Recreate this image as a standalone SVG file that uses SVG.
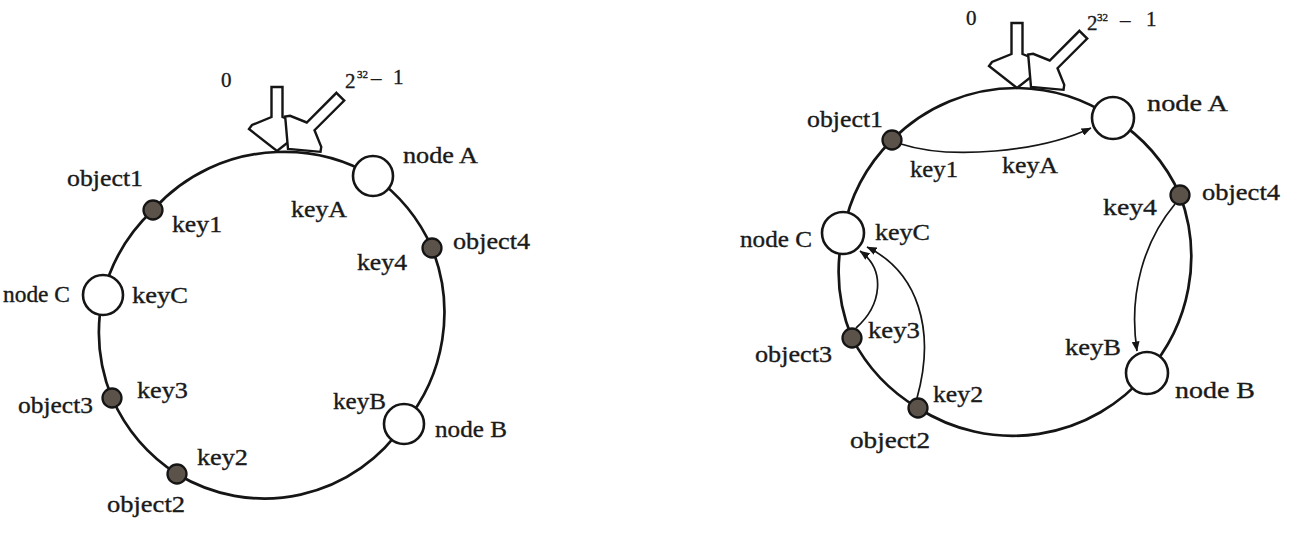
<svg xmlns="http://www.w3.org/2000/svg" width="1316" height="536" viewBox="0 0 1316 536">
<defs>
<marker id="ah" viewBox="0 0 10 8" refX="9.5" refY="4" markerWidth="10" markerHeight="8" markerUnits="userSpaceOnUse" orient="auto"><path d="M0,0 L10,4 L0,8 Z" fill="#151515"/></marker>
</defs>
<style>
text{font-family:"Liberation Serif","Times New Roman",serif;font-size:23px;fill:#1a1a1a;stroke:#1a1a1a;stroke-width:0.35}
.ring{fill:none;stroke:#151515;stroke-width:2.7}
.arr{fill:none;stroke:#151515;stroke-width:1.7}
.node{fill:#fff;stroke:#151515;stroke-width:2.6}
.obj{fill:#5b524a;stroke:#151515;stroke-width:2.3}
.hollow{fill:#fff;stroke:#151515;stroke-width:2.4;stroke-linejoin:miter}
.num{font-size:21px}
.sup{font-size:11px}
</style>
<rect width="1316" height="536" fill="#fff"/>

<!-- LEFT DIAGRAM -->
<g id="connectors-left">
<path class="ring" d="M277,152 A174,174 0 0 1 373,176 A174,174 0 0 1 432,248 A174,174 0 0 1 404,424 A168,168 0 0 1 177,474 A174,174 0 0 1 112,398 A174,174 0 0 1 103,295 A174,174 0 0 1 153,210 A174,174 0 0 1 277,152"/>
</g>
<g id="pointers-left">
<polygon class="hollow" transform="translate(277,151)" points="-5.5,-64 5.5,-64 5.5,-34 25,-26 28,-22 0,0 -28,-22 -25,-26 -5.5,-34"/>
<polygon class="hollow" transform="translate(288,149) rotate(45)" points="-5.5,-74 5.5,-74 5.5,-32 22,-25 25,-21 0,0 -25,-21 -22,-25 -5.5,-32"/>
<text class="num" x="221" y="87" font-size="22">0</text>
<text class="num" x="345" y="88">2</text>
<text class="sup" x="357" y="78">32</text>
<text class="num" x="371" y="85">–</text>
<text class="num" x="393" y="84">1</text>
</g>
<g id="L-nodeA"><circle class="node" cx="373" cy="176" r="20"/><text x="403" y="163" textLength="75" lengthAdjust="spacingAndGlyphs">node A</text><text x="291" y="217" textLength="56" lengthAdjust="spacingAndGlyphs">keyA</text></g>
<g id="L-object4"><circle class="obj" cx="432" cy="248" r="9.5"/><text x="453" y="249" textLength="77" lengthAdjust="spacingAndGlyphs">object4</text><text x="357" y="270" textLength="50" lengthAdjust="spacingAndGlyphs">key4</text></g>
<g id="L-nodeB"><circle class="node" cx="404" cy="424" r="20"/><text x="435" y="437" textLength="72" lengthAdjust="spacingAndGlyphs">node B</text><text x="333" y="409" textLength="53" lengthAdjust="spacingAndGlyphs">keyB</text></g>
<g id="L-object2"><circle class="obj" cx="177" cy="474" r="9.5"/><text x="107" y="512" textLength="78" lengthAdjust="spacingAndGlyphs">object2</text><text x="197" y="465" textLength="51" lengthAdjust="spacingAndGlyphs">key2</text></g>
<g id="L-object3"><circle class="obj" cx="112" cy="398" r="9.5"/><text x="18" y="413" textLength="75" lengthAdjust="spacingAndGlyphs">object3</text><text x="137" y="398" textLength="51" lengthAdjust="spacingAndGlyphs">key3</text></g>
<g id="L-nodeC"><circle class="node" cx="103" cy="295" r="20"/><text x="3" y="302" textLength="67" lengthAdjust="spacingAndGlyphs">node C</text><text x="132" y="303" textLength="56" lengthAdjust="spacingAndGlyphs">keyC</text></g>
<g id="L-object1"><circle class="obj" cx="153" cy="210" r="9.5"/><text x="67" y="186" textLength="76" lengthAdjust="spacingAndGlyphs">object1</text><text x="172" y="232" textLength="50" lengthAdjust="spacingAndGlyphs">key1</text></g>

<!-- RIGHT DIAGRAM -->
<g id="connectors-right">
<path class="ring" d="M1018,88 A175,175 0 0 1 1113,118 A175,175 0 0 1 1180,195 A175,175 0 0 1 1147,373 A175,175 0 0 1 918,408 A175,175 0 0 1 852,338 A175,175 0 0 1 843,233 A175,175 0 0 1 892,140 A175,175 0 0 1 1018,88"/>
<path class="arr" marker-end="url(#ah)" d="M901,144 C950,160 1040,152 1091,128"/>
<path class="arr" marker-end="url(#ah)" d="M1175,204 C1145,240 1128,292 1137,351"/>
<path class="arr" marker-end="url(#ah)" d="M856,328 C882,305 886,270 860,251"/>
<path class="arr" marker-end="url(#ah)" d="M917,398 C936,330 918,272 867,247"/>
</g>
<g id="pointers-right">
<polygon class="hollow" transform="translate(1017,88)" points="-5.5,-65 5.5,-65 5.5,-34 25,-26 28,-22 0,0 -28,-22 -25,-26 -5.5,-34"/>
<polygon class="hollow" transform="translate(1031,87) rotate(45)" points="-5.5,-74 5.5,-74 5.5,-32 22,-25 25,-21 0,0 -25,-21 -22,-25 -5.5,-32"/>
<text class="num" x="966" y="25" font-size="22">0</text>
<text class="num" x="1087" y="30">2</text>
<text class="sup" x="1097" y="21">32</text>
<text class="num" x="1120" y="27">–</text>
<text class="num" x="1146" y="26">1</text>
</g>
<g id="R-nodeA"><circle class="node" cx="1113" cy="118" r="21"/><text x="1147" y="111" textLength="81" lengthAdjust="spacingAndGlyphs">node A</text><text x="1002" y="173" textLength="56" lengthAdjust="spacingAndGlyphs">keyA</text></g>
<g id="R-object4"><circle class="obj" cx="1180" cy="195" r="9.5"/><text x="1202" y="200" textLength="78" lengthAdjust="spacingAndGlyphs">object4</text><text x="1103" y="215" textLength="54" lengthAdjust="spacingAndGlyphs">key4</text></g>
<g id="R-nodeB"><circle class="node" cx="1147" cy="373" r="21"/><text x="1175" y="398" textLength="80" lengthAdjust="spacingAndGlyphs">node B</text><text x="1065" y="355" textLength="56" lengthAdjust="spacingAndGlyphs">keyB</text></g>
<g id="R-object2"><circle class="obj" cx="918" cy="408" r="9.5"/><text x="850" y="448" textLength="80" lengthAdjust="spacingAndGlyphs">object2</text><text x="933" y="402" textLength="50" lengthAdjust="spacingAndGlyphs">key2</text></g>
<g id="R-object3"><circle class="obj" cx="852" cy="338" r="9.5"/><text x="755" y="362" textLength="77" lengthAdjust="spacingAndGlyphs">object3</text><text x="868" y="338" textLength="52" lengthAdjust="spacingAndGlyphs">key3</text></g>
<g id="R-nodeC"><circle class="node" cx="843" cy="233" r="21"/><text x="740" y="247" textLength="72" lengthAdjust="spacingAndGlyphs">node C</text><text x="875" y="240" textLength="55" lengthAdjust="spacingAndGlyphs">keyC</text></g>
<g id="R-object1"><circle class="obj" cx="892" cy="140" r="9.5"/><text x="807" y="127" textLength="76" lengthAdjust="spacingAndGlyphs">object1</text><text x="910" y="177" textLength="48" lengthAdjust="spacingAndGlyphs">key1</text></g>
</svg>
